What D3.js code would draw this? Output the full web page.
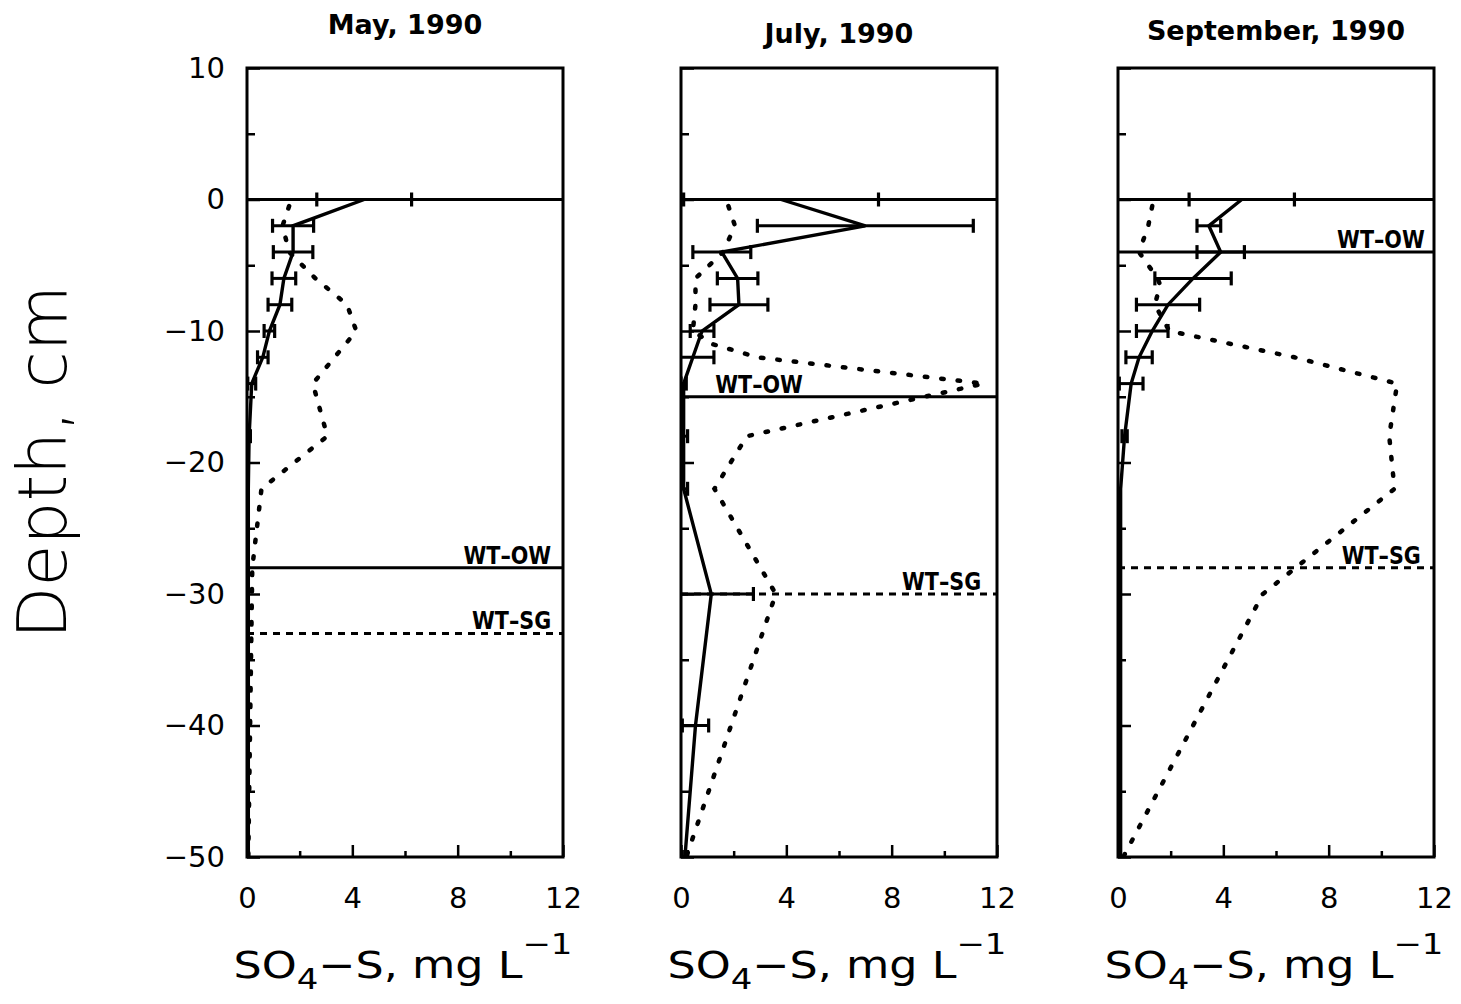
<!DOCTYPE html>
<html>
<head>
<meta charset="utf-8">
<script src="https://cdn.jsdelivr.net/npm/d3@7"></script>
<style>
body { margin: 0; background: #fff; }
text { font-family: "DejaVu Sans", sans-serif; fill: #000; }
</style>
</head>
<body>
<svg id="chart" width="1461" height="1004"></svg>
<script>
/* DATA */

const titles = ["May, 1990", "July, 1990", "September, 1990"]

// solid profile: [depth cm, SO4-S mg/L, +/- error]
const maySolid = [
    [0, 4.45, 1.8], [-2, 1.75, 0.78], [-4, 1.75, 0.75], [-6, 1.4, 0.45], [-8, 1.25, 0.45],
    [-10, 0.85, 0.2], [-12, 0.6, 0.2], [-14, 0.18, 0.15], [-18, 0.08, 0.05], [-22, 0.05, 0],
    [-30, 0.05, 0], [-50, 0.05, 0]
]
const julySolid = [
    [0, 3.8, 3.7], [-2, 7.0, 4.1], [-4, 1.55, 1.1], [-6, 2.15, 0.77], [-8, 2.2, 1.1],
    [-10, 0.8, 0.45], [-12, 0.45, 0.8], [-14, 0.1, 0.1], [-18, 0.1, 0.15], [-22, 0.1, 0.15],
    [-30, 1.15, 1.6], [-40, 0.55, 0.5], [-50, 0.15, 0.1]
]
const septSolid = [
    [0, 4.7, 2.0], [-2, 3.45, 0.45], [-4, 3.9, 0.9], [-6, 2.85, 1.45], [-8, 1.9, 1.2],
    [-10, 1.3, 0.6], [-12, 0.8, 0.5], [-14, 0.5, 0.45], [-18, 0.25, 0.1], [-22, 0.1, 0],
    [-30, 0.1, 0], [-50, 0.1, 0]
]

// dotted profile: [depth cm, value]
const mayDotted = [
    [-0.5, 1.6], [-2, 1.35], [-4, 1.6], [-6, 2.6], [-8, 3.8], [-10, 4.15], [-14, 2.5],
    [-18, 3.05], [-22, 0.55], [-28, 0.2], [-50, 0.05]
]
const julyDotted = [
    [-0.5, 1.8], [-2, 2.05], [-4, 1.6], [-6, 0.55], [-8, 0.55], [-10, 0.45], [-11, 1.2],
    [-12, 2.9], [-14, 11.5], [-18, 2.5], [-22, 1.27], [-30, 3.6], [-50, 0.2]
]
const septDotted = [
    [-0.5, 1.3], [-2, 1.15], [-4, 0.8], [-6, 1.5], [-6.5, 1.6], [-8, 1.4], [-10, 1.95],
    [-12, 6.7], [-14, 10.6], [-18, 10.3], [-22, 10.5], [-30, 5.5], [-50, 0.2]
]

// water table levels: [depth, style, label, label x (mg/L), anchor]
const mayLevels = [[0, "solid", "", 0, "end"], [-28, "solid", "WT\u2013OW", 11.55, "end"], [-33, "dash", "WT\u2013SG", 11.55, "end"]]
const julyLevels = [[0, "solid", "", 0, "end"], [-15, "solid", "WT\u2013OW", 1.3, "start"], [-30, "dash", "WT\u2013SG", 11.4, "end"]]
const septLevels = [[0, "solid", "", 0, "end"], [-4, "solid", "WT\u2013OW", 11.65, "end"], [-28, "dash", "WT\u2013SG", 11.5, "end"]]

/* LAYOUT */

const panelLeft = [247, 681, 1118]
const panelW = 316
const plotTop = 68, plotBottom = 857
const titleY = [34, 43, 40]

const panels = [
    { title: titles[0], solid: maySolid, dotted: mayDotted, levels: mayLevels },
    { title: titles[1], solid: julySolid, dotted: julyDotted, levels: julyLevels },
    { title: titles[2], solid: septSolid, dotted: septDotted, levels: septLevels },
]

const svg = d3.select("#chart")

panels.forEach((p, i) => {
    const x = d3.scaleLinear().domain([0, 12]).range([panelLeft[i], panelLeft[i] + panelW])
    const y = d3.scaleLinear().domain([-50, 10]).range([plotBottom, plotTop])
    const g = svg.append("g")

    g.append("clipPath").attr("id", "clip" + i)
        .append("rect")
        .attr("x", x(0)).attr("y", y(10))
        .attr("width", x(12) - x(0)).attr("height", y(-50) - y(10))

    const plot = g.append("g").attr("clip-path", "url(#clip" + i + ")")

    // water table lines
    p.levels.forEach(l => {
        plot.append("line")
            .attr("x1", x(0)).attr("x2", x(12))
            .attr("y1", y(l[0])).attr("y2", y(l[0]))
            .attr("stroke", "#000")
            .attr("stroke-width", 3)
            .attr("stroke-dasharray", l[1] === "solid" ? null : "7 6")
        if (l[2]) {
            g.append("text")
                .attr("transform", "translate(" + x(l[3]) + "," + (y(l[0]) - 4) + ") scale(0.92,1)")
                .attr("text-anchor", l[4])
                .style("font-family", "'DejaVu Sans Condensed', 'DejaVu Sans', sans-serif")
                .style("font-weight", "bold")
                .style("font-size", "25px")
                .text(l[2])
        }
    })

    // dotted profile
    plot.append("path")
        .datum(p.dotted)
        .attr("d", d3.line().x(d => x(d[1])).y(d => y(d[0])))
        .attr("fill", "none")
        .attr("stroke", "#000")
        .attr("stroke-width", 4.5)
        .attr("stroke-linecap", "round")
        .attr("stroke-dasharray", "2.5 14")

    // solid profile
    plot.append("path")
        .datum(p.solid)
        .attr("d", d3.line().x(d => x(d[1])).y(d => y(d[0])))
        .attr("fill", "none")
        .attr("stroke", "#000")
        .attr("stroke-width", 3.4)

    // error bars
    const eb = plot.selectAll(".err")
        .data(p.solid.filter(d => d[2] > 0))
        .enter().append("g")
    eb.append("line")
        .attr("x1", d => x(d[1] - d[2])).attr("x2", d => x(d[1] + d[2]))
        .attr("y1", d => y(d[0])).attr("y2", d => y(d[0]))
        .attr("stroke", "#000").attr("stroke-width", 3)
    eb.append("line")
        .attr("x1", d => x(d[1] - d[2])).attr("x2", d => x(d[1] - d[2]))
        .attr("y1", d => y(d[0]) - 7).attr("y2", d => y(d[0]) + 7)
        .attr("stroke", "#000").attr("stroke-width", 3.2)
    eb.append("line")
        .attr("x1", d => x(d[1] + d[2])).attr("x2", d => x(d[1] + d[2]))
        .attr("y1", d => y(d[0]) - 7).attr("y2", d => y(d[0]) + 7)
        .attr("stroke", "#000").attr("stroke-width", 3.2)

    // inner ticks on left axis
    const depthTicks = y.ticks(12)
    g.append("g")
        .attr("transform", "translate(" + x(0) + ",0)")
        .call(d3.axisRight(y).tickValues(depthTicks.filter(d => d % 10 === 0)).tickSize(13).tickFormat(""))
        .call(a => a.select(".domain").remove())
        .call(a => a.selectAll("line").attr("stroke-width", 2.5))
    g.append("g")
        .attr("transform", "translate(" + x(0) + ",0)")
        .call(d3.axisRight(y).tickValues(depthTicks.filter(d => d % 10 !== 0)).tickSize(8).tickFormat(""))
        .call(a => a.select(".domain").remove())
        .call(a => a.selectAll("line").attr("stroke-width", 2.5))

    // inner ticks on bottom axis
    const concTicks = x.ticks(6)
    g.append("g")
        .attr("transform", "translate(0," + y(-50) + ")")
        .call(d3.axisTop(x).tickValues(concTicks.filter(d => d % 4 === 0)).tickSize(12).tickFormat(""))
        .call(a => a.select(".domain").remove())
        .call(a => a.selectAll("line").attr("stroke-width", 2.5))
    g.append("g")
        .attr("transform", "translate(0," + y(-50) + ")")
        .call(d3.axisTop(x).tickValues(concTicks.filter(d => d % 4 !== 0)).tickSize(6).tickFormat(""))
        .call(a => a.select(".domain").remove())
        .call(a => a.selectAll("line").attr("stroke-width", 2.5))

    // x tick labels
    g.append("g")
        .attr("transform", "translate(0," + y(-50) + ")")
        .call(d3.axisBottom(x).tickValues(concTicks.filter(d => d % 4 === 0)).tickSize(0).tickPadding(30))
        .call(a => a.select(".domain").remove())
        .call(a => a.selectAll("text").style("font-size", "29px").style("font-family", "'DejaVu Sans', sans-serif"))

    // y tick labels, first panel only
    if (i === 0) {
        g.append("g")
            .attr("transform", "translate(" + (x(0) - 22) + ",0)")
            .call(d3.axisLeft(y).ticks(6).tickSize(0).tickPadding(0))
            .call(a => a.select(".domain").remove())
            .call(a => a.selectAll("text").style("font-size", "29px").style("font-family", "'DejaVu Sans', sans-serif"))
    }

    // frame
    g.append("rect")
        .attr("x", x(0)).attr("y", y(10))
        .attr("width", x(12) - x(0)).attr("height", y(-50) - y(10))
        .attr("fill", "none").attr("stroke", "#000").attr("stroke-width", 3)

    // panel title
    g.append("text")
        .attr("x", (x(0) + x(12)) / 2).attr("y", titleY[i])
        .attr("text-anchor", "middle")
        .style("font-weight", "bold").style("font-size", "27px")
        .text(p.title)

    // x axis title
    const xt = g.append("text")
        .attr("transform", "translate(" + ((x(0) + x(12)) / 2 - 2) + ",978) scale(1.17,1)")
        .attr("text-anchor", "middle")
        .style("font-size", "38px")
    xt.append("tspan").text("SO")
    xt.append("tspan").attr("dy", 11).style("font-size", "29px").text("4")
    xt.append("tspan").attr("dy", -11).text("\u2212S, mg L")
    xt.append("tspan").attr("dy", -24).style("font-size", "29px").text("\u22121")
})

// y axis title
svg.append("text")
    .attr("transform", "translate(66,462) rotate(-90)")
    .attr("text-anchor", "middle")
    .style("font-size", "68px")
    .style("font-weight", "200")
    .text("Depth, cm")
</script>
</body>
</html>
